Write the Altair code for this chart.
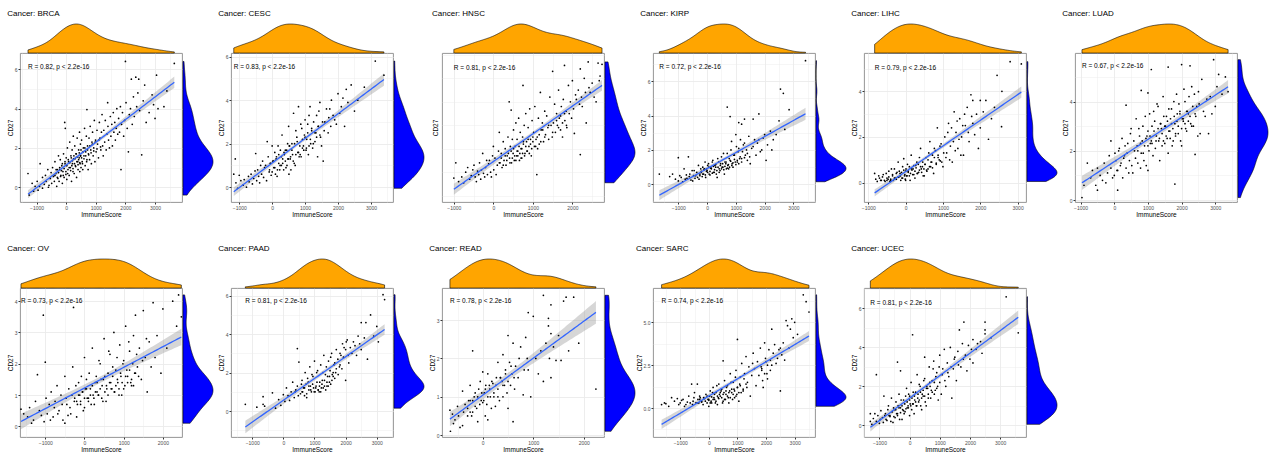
import json

import altair as alt
import numpy as np
import pandas as pd

FONT = "Liberation Sans"
PANEL_W, PANEL_H = 162, 149      # plot-area size of every scatter panel
TOP_H, SIDE_W = 29, 31           # depth of the marginal density strips

CANCERS = ["BRCA", "CESC", "HNSC", "KIRP", "LIHC", "LUAD",
           "OV", "PAAD", "READ", "SARC", "UCEC"]
R_TEXT = ["R = 0.82, p < 2.2e-16", "R = 0.83, p < 2.2e-16", "R = 0.81, p < 2.2e-16",
          "R = 0.72, p < 2.2e-16", "R = 0.79, p < 2.2e-16", "R = 0.67, p < 2.2e-16",
          "R = 0.73, p < 2.2e-16", "R = 0.81, p < 2.2e-16", "R = 0.78, p < 2.2e-16",
          "R = 0.74, p < 2.2e-16", "R = 0.81, p < 2.2e-16"]
X_DOMAIN = [[-1560, 3910], [-1250, 3670], [-1300, 2800], [-1880, 3750], [-1115, 3225],
            [-1167, 3645], [-1645, 2487], [-1680, 3520], [-807, 2400], [-1950, 3710],
            [-1510, 3857]]
Y_DOMAIN = [[-0.75, 6.83], [-0.68, 6.17], [-0.77, 5.58], [-1.03, 7.65], [-0.85, 5.68],
            [-0.08, 5.97], [-0.34, 4.42], [-1.35, 6.4], [-0.05, 3.84], [-1.69, 7.0],
            [-0.6, 7.05]]
X_BREAKS = [[-1000, 0, 1000, 2000, 3000], [-1000, 0, 1000, 2000, 3000],
            [-1000, 0, 1000, 2000], [-1000, 0, 1000, 2000, 3000],
            [-1000, 0, 1000, 2000, 3000], [-1000, 0, 1000, 2000, 3000],
            [-1000, 0, 1000, 2000], [-1000, 0, 1000, 2000, 3000], [0, 1000, 2000],
            [-1000, 0, 1000, 2000, 3000], [-1000, 0, 1000, 2000, 3000]]
Y_BREAKS = [[0, 2, 4, 6], [0, 2, 4, 6], [0, 1, 2, 3, 4, 5], [0, 2, 4, 6], [0, 2, 4],
            [0, 2, 4], [0, 1, 2, 3, 4], [0, 2, 4, 6], [0, 1, 2, 3], [0, 2.5, 5.0],
            [0, 2, 4, 6]]
Y_FORMAT = ["d", "d", "d", "d", "d", "d", "d", "d", "d", ".1f", "d"]

# (ImmuneScore, CD27 expression) per cancer type: spread of the cloud ...
BRCA_PTS = [
    (-1290, 0.7), (-1250, -0.4), (-1150, 0.2), (-1100, -0.2), (-1050, 0.05), (-980, 0.3),
    (-950, -0.15), (-900, 0.05), (-880, 1.2), (-800, 0.5), (-800, -0.05), (-600, 0.0),
    (-740, 0.15), (-700, 0.6), (-680, 0.3), (-620, 0.9), (-580, 0.1), (-540, 0.45), (-510, 0.75),
    (-490, 0.2), (-460, 1.0), (-430, 0.55), (-400, 0.3), (-380, 1.3), (-350, 0.7), (-320, 0.05),
    (-300, 0.9), (-280, 0.45), (-260, 1.6), (-240, 0.3), (-220, 0.9), (-200, 1.4), (-180, 0.6),
    (-150, 1.1), (-130, 0.2), (-110, 0.8), (-90, 1.7), (-70, 0.5), (-50, 3.3), (-40, 1.2),
    (-30, 3.0), (-10, 0.65), (0, 1.5), (20, 0.4), (40, 2.0), (60, 0.9), (80, 1.3), (100, 0.6),
    (120, 2.3), (140, 1.0), (160, 1.6), (180, 0.3), (200, 1.9), (210, 1.2), (230, 0.8), (240, 2.6),
    (250, 1.45), (270, 0.7), (290, 2.1), (310, 1.1), (330, 1.7), (350, 0.5), (370, 2.5), (390, 1.3),
    (400, 0.9), (420, 1.9), (440, 1.5), (450, 2.8), (460, 0.8), (470, 1.2), (480, 2.2), (490, 1.6),
    (500, 1.0), (520, 2.4), (540, 1.3), (560, 0.9), (580, 2.0), (600, 1.6), (620, 3.0), (640, 1.1),
    (660, 1.8), (680, 2.6), (700, 3.95), (700, 1.4), (720, 2.1), (740, 0.9), (750, 1.7), (770, 2.5),
    (790, 1.4), (810, 3.1), (830, 1.9), (850, 1.2), (870, 2.3), (890, 2.8), (910, 1.6), (930, 2.0),
    (950, 3.4), (970, 1.3), (990, 2.4), (1010, 1.8), (1040, 2.9), (1060, 2.2), (1090, 1.5),
    (1120, 3.3), (1140, 2.5), (1170, 1.9), (1190, 2.8), (1210, 3.7), (1230, 2.1), (1250, 1.6),
    (1270, 2.9), (1300, 2.3), (1320, 3.4), (1350, 1.9), (1370, 2.7), (1400, 4.3), (1410, 3.1),
    (1430, 2.4), (1460, 2.0), (1490, 3.6), (1510, 2.6), (1540, 3.2), (1560, 2.1), (1590, 3.8),
    (1610, 2.8), (1640, 3.3), (1660, 2.4), (1690, 3.0), (1710, 4.0), (1740, 2.7), (1770, 3.5),
    (1800, 2.8), (1830, 4.1), (1850, 0.9), (1870, 3.2), (1900, 3.8), (1940, 2.6), (1970, 3.4),
    (2000, 6.4), (2020, 4.3), (2060, 3.0), (2100, 1.8), (2130, 3.7), (2170, 4.0), (2200, 5.5),
    (2230, 3.2), (2270, 4.6), (2300, 3.6), (2350, 5.6), (2380, 4.1), (2420, 4.8), (2450, 5.5),
    (2480, 3.9), (2550, 1.65), (2600, 4.4), (2650, 5.2), (2700, 3.3), (2800, 3.8), (2900, 4.7),
    (2950, 4.2), (3000, 3.5), (3050, 5.7), (3100, 4.0), (3300, 4.1), (3400, 4.9), (3650, 6.3)]
CESC_PTS = [
    (-1166, 0.6), (-1120, 1.3), (-1100, 0.2), (-1050, -0.05), (-1000, 0.55), (-950, 0.3),
    (-880, 0.1), (-850, 0.35), (-780, 0.0), (-720, 0.5), (-700, 0.25), (-640, 0.6), (-600, 0.15),
    (-560, 0.4), (-520, 0.75), (-500, 1.55), (-470, 0.3), (-440, 0.8), (-410, 0.5), (-380, 0.2),
    (-350, 1.0), (-320, 0.6), (-290, 1.2), (-260, 0.45), (-230, 0.9), (-200, 1.0), (-170, 0.3),
    (-150, 2.1), (-120, 1.4), (-90, 0.7), (-60, 1.1), (-30, 0.55), (0, 1.9), (20, 1.2), (50, 0.9),
    (80, 1.6), (100, 0.6), (130, 1.4), (150, 0.5), (180, 1.9), (200, 1.1), (230, 0.8), (250, 1.7),
    (280, 1.0), (300, 2.4), (320, 1.3), (350, 0.8), (370, 1.5), (400, 1.7), (420, 0.9), (450, 1.0),
    (470, 2.0), (490, 1.3), (500, 2.8), (510, 0.6), (530, 1.9), (550, 1.3), (570, 0.8), (600, 2.0),
    (620, 1.5), (650, 3.4), (670, 1.1), (700, 1.0), (720, 2.6), (750, 2.3), (780, 1.6), (800, 3.7),
    (820, 1.4), (850, 1.5), (870, 2.9), (900, 2.7), (920, 1.8), (950, 1.9), (980, 2.4), (1000, 3.1),
    (1030, 1.7), (1050, 2.2), (1080, 2.9), (1100, 1.5), (1120, 3.3), (1150, 3.7), (1170, 2.0),
    (1200, 2.6), (1230, 1.8), (1260, 3.0), (1300, 2.1), (1330, 2.5), (1350, 3.3), (1380, 1.4),
    (1400, 2.8), (1420, 3.5), (1450, 3.9), (1470, 2.3), (1500, 1.9), (1530, 3.0), (1550, 1.2),
    (1580, 2.6), (1600, 3.0), (1650, 3.6), (1700, 2.5), (1720, 3.2), (1750, 3.6), (1780, 2.8),
    (1800, 4.0), (1850, 3.3), (1900, 3.1), (1950, 2.9), (2000, 4.3), (2050, 3.4), (2100, 3.7),
    (2150, 4.1), (2200, 2.8), (2250, 4.5), (2300, 3.9), (2400, 4.7), (2500, 3.5), (2600, 4.0),
    (2800, 4.6), (3132, 5.8), (3395, 5.15)]
HNSC_PTS = [
    (-1000, 0.25), (-950, 0.9), (-880, 0.1), (-800, 0.3), (-750, 0.05), (-700, 0.5), (-650, 0.7),
    (-600, 0.2), (-560, 0.35), (-520, 0.6), (-490, 0.8), (-460, 0.3), (-430, 0.1), (-400, 0.55),
    (-370, 0.4), (-350, 0.9), (-320, 0.2), (-300, 0.6), (-270, 1.3), (-250, 0.45), (-220, 0.3),
    (-200, 0.7), (-170, 1.0), (-150, 0.4), (-120, 0.85), (-100, 1.0), (-70, 0.5), (-50, 0.3),
    (-20, 1.2), (0, 1.6), (10, 0.6), (40, 1.1), (70, 0.4), (100, 0.8), (130, 1.4), (150, 2.2),
    (170, 0.9), (200, 1.3), (220, 0.7), (250, 1.8), (270, 1.0), (300, 1.5), (320, 0.8), (350, 1.2),
    (370, 2.0), (400, 3.5), (410, 1.1), (430, 1.6), (450, 3.15), (460, 0.9), (480, 1.9), (500, 1.3),
    (510, 2.3), (530, 1.0), (550, 1.6), (570, 2.6), (590, 1.2), (600, 1.9), (620, 1.4), (640, 2.8),
    (660, 1.0), (680, 2.2), (700, 1.5), (720, 1.1), (740, 2.0), (750, 4.2), (760, 1.7), (780, 2.5),
    (800, 1.3), (820, 3.0), (840, 1.8), (860, 1.4), (880, 2.4), (900, 1.6), (920, 3.2), (940, 1.9),
    (960, 1.2), (980, 2.7), (1000, 1.8), (1020, 2.2), (1050, 3.3), (1070, 1.6), (1100, 0.4),
    (1110, 2.0), (1140, 2.8), (1160, 1.7), (1190, 3.9), (1210, 2.3), (1240, 2.6), (1270, 1.8),
    (1300, 3.1), (1320, 2.1), (1350, 2.9), (1380, 2.4), (1400, 1.9), (1430, 3.7), (1460, 2.5),
    (1490, 2.0), (1500, 4.8), (1520, 2.6), (1550, 3.4), (1570, 2.2), (1600, 3.0), (1620, 2.5),
    (1650, 4.0), (1670, 2.8), (1700, 2.3), (1720, 3.3), (1750, 2.0), (1770, 3.6), (1800, 5.05),
    (1810, 2.7), (1840, 3.1), (1860, 2.4), (1900, 4.2), (1920, 3.0), (1950, 3.5), (1980, 2.8),
    (2000, 4.4), (2030, 3.2), (2050, 2.15), (2080, 3.8), (2100, 3.6), (2150, 4.0), (2180, 3.4),
    (2200, 1.25), (2200, 4.9), (2230, 3.7), (2250, 3.3), (2300, 4.5), (2330, 3.9), (2350, 2.6),
    (2400, 5.2), (2420, 4.1), (2450, 3.9), (2500, 4.3), (2550, 3.7), (2600, 3.5), (2650, 5.15),
    (2680, 4.4), (2700, 4.6), (2750, 5.1)]
KIRP_PTS = [
    (-1660, 0.6), (-1300, 0.45), (-1200, 0.6), (-1100, 0.3), (-1000, 1.55), (-1000, 0.2),
    (-950, 0.5), (-900, 0.4), (-850, 0.15), (-800, 0.9), (-760, 0.3), (-720, 0.55), (-700, 0.35),
    (-650, 1.6), (-620, 0.45), (-600, 0.6), (-560, 0.25), (-520, 0.8), (-500, 0.2), (-470, 0.5),
    (-450, 0.8), (-420, 0.35), (-400, 0.5), (-360, 0.7), (-330, 0.4), (-300, 1.1), (-280, 0.3),
    (-250, 0.6), (-220, 0.9), (-200, 0.7), (-170, 0.45), (-150, 1.0), (-120, 0.6), (-100, 0.9),
    (-70, 1.3), (-50, 0.4), (-20, 0.75), (0, 0.8), (20, 1.1), (50, 1.2), (70, 0.6), (100, 0.55),
    (120, 0.95), (150, 0.9), (180, 1.3), (200, 1.4), (220, 0.7), (250, 0.7), (270, 1.1), (300, 1.0),
    (320, 0.6), (350, 0.4), (370, 1.5), (400, 1.3), (420, 0.9), (450, 0.8), (470, 1.2), (500, 1.6),
    (520, 1.0), (550, 1.0), (570, 1.8), (600, 0.6), (620, 1.3), (650, 1.2), (670, 0.9), (700, 4.5),
    (700, 1.8), (720, 1.1), (750, 0.9), (770, 1.5), (800, 3.95), (800, 1.4), (830, 2.0), (850, 2.5),
    (870, 1.2), (900, 1.0), (930, 1.7), (950, 1.7), (980, 1.3), (1000, 2.9), (1020, 2.2),
    (1050, 1.3), (1080, 1.9), (1100, 3.6), (1100, 2.1), (1130, 1.5), (1160, 2.6), (1200, 3.5),
    (1200, 1.5), (1230, 1.9), (1260, 2.3), (1300, 3.8), (1300, 2.4), (1330, 1.7), (1370, 2.0),
    (1400, 1.8), (1450, 2.8), (1480, 1.6), (1500, 1.2), (1550, 2.1), (1600, 3.8), (1600, 2.2),
    (1650, 2.6), (1700, 1.7), (1750, 2.4), (1800, 4.1), (1800, 2.6), (1850, 1.9), (1900, 2.0),
    (1950, 2.7), (2000, 2.9), (2050, 1.4), (2100, 2.3), (2200, 3.1), (2250, 2.0), (2300, 2.6),
    (2400, 2.9), (2500, 3.7), (2550, 5.55), (2650, 5.3), (2700, 3.2), (2850, 4.35), (3420, 7.2)]
LIHC_PTS = [
    (-830, 0.4), (-800, 0.15), (-760, 0.05), (-720, 0.3), (-700, 0.2), (-670, 0.1), (-650, 0.1),
    (-620, 0.25), (-600, 0.35), (-570, 0.1), (-550, 0.05), (-520, 0.4), (-500, 0.2), (-470, 0.15),
    (-450, 0.5), (-420, 0.05), (-400, 0.1), (-380, 0.6), (-350, 0.3), (-330, 0.1), (-300, 0.6),
    (-280, 0.2), (-250, 0.15), (-230, 0.45), (-200, 0.9), (-180, 0.25), (-150, 0.4), (-130, 0.1),
    (-100, 0.2), (-80, 0.7), (-50, 1.05), (-30, 0.3), (-10, 0.15), (0, 0.5), (0, 0.1), (20, 0.3),
    (50, 0.8), (70, 0.45), (100, 0.3), (120, 0.1), (150, 1.2), (170, 0.55), (200, 0.6), (220, 0.35),
    (250, 0.2), (270, 0.75), (300, 0.9), (320, 0.4), (350, 0.45), (370, 1.1), (400, 1.5), (420, 0.6),
    (450, 0.7), (470, 0.3), (500, 0.3), (520, 0.8), (550, 1.1), (570, 0.5), (600, 0.6), (620, 1.3),
    (650, 1.8), (670, 0.7), (700, 0.9), (720, 1.2), (750, 0.4), (770, 1.5), (800, 1.4), (820, 0.8),
    (850, 2.4), (870, 1.1), (900, 1.0), (920, 1.6), (950, 1.7), (970, 0.9), (1000, 0.7),
    (1020, 1.3), (1050, 2.0), (1080, 1.1), (1100, 1.3), (1130, 2.2), (1150, 2.6), (1180, 1.0),
    (1200, 1.6), (1230, 2.4), (1250, 0.9), (1280, 1.8), (1300, 3.1), (1330, 1.4), (1350, 2.2),
    (1380, 2.7), (1400, 1.5), (1430, 1.9), (1450, 2.8), (1480, 1.2), (1500, 2.0), (1530, 2.5),
    (1550, 1.2), (1580, 3.0), (1600, 2.5), (1650, 3.3), (1680, 2.2), (1700, 1.8), (1750, 3.85),
    (1770, 2.9), (1800, 3.6), (1800, 2.6), (1850, 2.1), (1900, 3.0), (1950, 1.5), (2000, 3.6),
    (2000, 2.4), (2080, 3.1), (2150, 3.6), (2220, 1.9), (2300, 2.8), (2380, 3.3), (2450, 4.7),
    (2570, 2.45), (2580, 4.0), (2800, 5.3), (3100, 5.2)]
LUAD_PTS = [
    (-960, 0.1), (-900, 0.6), (-800, 1.5), (-700, 0.9), (-650, 1.2), (-550, 0.6), (-500, 1.3),
    (-500, 0.4), (-420, 1.0), (-350, 0.8), (-300, 1.5), (-250, 0.7), (-200, 1.1), (-150, 1.8),
    (-100, 2.4), (-100, 1.3), (-50, 0.9), (0, 1.0), (20, 1.9), (50, 1.6), (80, 1.2), (100, 0.4),
    (100, 1.2), (130, 2.0), (150, 2.1), (180, 1.4), (200, 1.5), (230, 2.5), (250, 0.9), (280, 1.7),
    (300, 1.8), (320, 2.2), (350, 3.85), (350, 1.3), (380, 1.9), (400, 2.3), (430, 1.1), (450, 1.6),
    (480, 2.7), (500, 2.9), (520, 1.4), (550, 1.1), (580, 2.4), (600, 2.0), (630, 1.7), (650, 3.3),
    (680, 2.2), (700, 1.5), (730, 2.9), (750, 2.6), (780, 1.3), (800, 4.45), (800, 1.9), (830, 2.4),
    (850, 3.0), (880, 1.6), (900, 2.2), (920, 3.4), (950, 1.4), (970, 2.6), (1000, 4.35),
    (1000, 1.2), (1000, 2.8), (1030, 2.0), (1050, 3.5), (1070, 2.3), (1100, 5.3), (1100, 2.4),
    (1120, 3.0), (1150, 1.8), (1170, 3.6), (1200, 3.2), (1220, 2.1), (1250, 2.6), (1270, 3.9),
    (1300, 3.8), (1320, 2.4), (1350, 1.6), (1370, 3.1), (1400, 2.9), (1420, 2.2), (1450, 4.2),
    (1470, 3.4), (1500, 2.3), (1520, 3.0), (1550, 3.4), (1570, 2.5), (1600, 5.4), (1600, 1.9),
    (1620, 3.7), (1650, 2.8), (1670, 3.3), (1700, 3.7), (1720, 2.2), (1750, 2.4), (1770, 4.0),
    (1800, 0.65), (1800, 3.1), (1820, 2.6), (1850, 4.3), (1870, 3.5), (1900, 2.7), (1920, 3.9),
    (1950, 3.6), (1970, 2.4), (2000, 5.5), (2000, 2.2), (2020, 3.3), (2050, 3.2), (2070, 4.5),
    (2100, 4.0), (2120, 2.9), (2150, 2.8), (2170, 3.6), (2200, 3.5), (2220, 4.2), (2250, 5.45),
    (2270, 3.1), (2300, 4.6), (2330, 3.8), (2350, 3.0), (2380, 4.3), (2400, 1.85), (2420, 3.4),
    (2450, 3.8), (2480, 2.6), (2500, 4.4), (2520, 3.9), (2550, 2.7), (2600, 4.9), (2650, 3.6),
    (2700, 3.4), (2750, 4.1), (2800, 2.7), (2850, 4.2), (2900, 3.5), (2950, 5.7), (3000, 3.8),
    (3050, 4.6), (3100, 5.1), (3200, 4.3), (3300, 5.0), (3380, 4.4)]
OV_PTS = [
    (-1620, 0.55), (-1550, 0.4), (-1450, 0.3), (-1400, 0.6), (-1350, 0.1), (-1300, 0.2),
    (-1250, 0.8), (-1200, 1.65), (-1150, 0.5), (-1100, 0.35), (-1050, 3.55), (-1030, 0.15),
    (-1000, 2.05), (-980, 0.9), (-950, 0.4), (-900, 0.7), (-870, 0.2), (-850, 1.1), (-800, 0.3),
    (-770, 0.6), (-750, 0.8), (-700, 1.3), (-680, 0.4), (-650, 0.5), (-600, 1.0), (-570, 0.7),
    (-550, 0.2), (-500, 0.1), (-500, 1.6), (-470, 0.9), (-450, 0.7), (-420, 0.35), (-400, 1.2),
    (-370, 0.6), (-350, 0.4), (-320, 1.0), (-300, 1.9), (-280, 3.8), (-260, 0.8), (-250, 0.9),
    (-220, 1.3), (-200, 0.3), (-180, 0.7), (-150, 1.4), (-120, 1.0), (-100, 0.8), (-80, 1.6),
    (-50, 1.1), (-30, 0.5), (0, 2.2), (0, 0.6), (20, 1.2), (50, 1.5), (70, 0.9), (100, 0.9),
    (120, 1.7), (150, 1.2), (170, 0.7), (200, 2.5), (220, 1.0), (250, 0.7), (270, 1.4), (300, 1.6),
    (320, 1.1), (350, 1.0), (370, 2.1), (400, 2.0), (420, 1.5), (450, 1.3), (470, 0.8), (500, 2.8),
    (520, 1.6), (550, 0.8), (570, 1.2), (600, 1.7), (620, 2.4), (650, 2.3), (670, 1.4), (700, 1.2),
    (720, 1.9), (750, 3.0), (770, 1.1), (800, 1.8), (830, 2.2), (850, 1.4), (880, 1.0), (900, 2.6),
    (930, 1.6), (950, 1.0), (980, 2.0), (1000, 2.1), (1030, 1.3), (1050, 3.2), (1080, 1.8),
    (1100, 1.6), (1130, 2.7), (1150, 2.4), (1180, 1.4), (1200, 1.3), (1230, 2.0), (1250, 2.9),
    (1280, 1.7), (1300, 3.55), (1330, 2.3), (1350, 1.9), (1380, 1.6), (1400, 2.5), (1450, 1.5),
    (1480, 2.1), (1500, 3.7), (1550, 2.2), (1580, 2.8), (1600, 1.1), (1650, 2.7), (1700, 1.9),
    (1750, 3.95), (1800, 2.2), (1850, 2.9), (1950, 1.7), (2000, 3.75), (2100, 2.5), (2250, 4.0),
    (2350, 3.2), (2400, 4.2), (2470, 3.5)]
PAAD_PTS = [
    (-1220, 0.35), (-850, 0.2), (-650, 0.75), (-650, 0.35), (-600, 0.25), (-350, 0.95), (-250, 0.15),
    (-150, 0.6), (-80, 0.3), (0, 0.85), (50, 0.5), (100, 1.2), (150, 0.8), (200, 0.55), (250, 1.0),
    (300, 1.5), (350, 0.7), (380, 1.0), (400, 1.1), (450, 3.25), (450, 1.3), (480, 0.8), (500, 2.55),
    (550, 0.9), (580, 1.4), (600, 1.6), (620, 1.0), (650, 1.2), (680, 0.8), (700, 2.0), (730, 1.4),
    (750, 0.7), (780, 1.7), (800, 1.5), (820, 1.1), (850, 2.3), (870, 1.3), (900, 1.0), (920, 1.9),
    (950, 1.8), (970, 1.2), (1000, 2.6), (1020, 1.0), (1050, 1.3), (1070, 2.0), (1100, 2.1),
    (1120, 1.1), (1150, 1.0), (1170, 1.5), (1200, 2.4), (1220, 1.2), (1250, 1.6), (1270, 2.0),
    (1300, 2.9), (1320, 1.3), (1350, 1.9), (1380, 2.3), (1400, 1.3), (1420, 1.8), (1450, 2.6),
    (1480, 1.5), (1500, 2.1), (1520, 2.8), (1550, 3.0), (1570, 1.9), (1600, 1.8), (1620, 2.4),
    (1650, 2.5), (1680, 2.0), (1700, 3.2), (1750, 2.7), (1800, 2.3), (1820, 3.0), (1850, 2.9),
    (1880, 2.2), (1900, 3.5), (1930, 2.8), (1950, 3.3), (2000, 1.6), (2000, 3.2), (2020, 3.6),
    (2050, 3.7), (2080, 2.9), (2100, 2.5), (2150, 3.3), (2200, 3.0), (2250, 3.6), (2300, 3.4),
    (2350, 2.9), (2400, 3.9), (2450, 3.5), (2500, 4.6), (2500, 3.2), (2600, 3.8), (2650, 4.6),
    (2700, 2.7), (2800, 5.0), (2900, 3.9), (3000, 4.4), (3050, 3.6), (3200, 6.05), (3250, 5.8)]
READ_PTS = [
    (-650, 0.65), (-640, 0.1), (-600, 0.55), (-580, 0.3), (-550, 0.4), (-500, 0.75), (-480, 0.5),
    (-450, 0.2), (-400, 0.25), (-400, 1.15), (-380, 0.6), (-350, 0.8), (-300, 0.5), (-280, 0.9),
    (-250, 1.3), (-250, 0.9), (-220, 0.5), (-200, 2.2), (-200, 0.6), (-170, 1.0), (-150, 1.1),
    (-120, 0.7), (-100, 0.35), (-80, 1.2), (-50, 1.4), (-30, 0.9), (0, 0.85), (0, 1.65), (30, 1.1),
    (50, 0.5), (50, 1.2), (80, 0.8), (100, 1.6), (100, 0.4), (130, 1.3), (150, 1.0), (170, 0.7),
    (200, 1.35), (220, 1.0), (250, 0.75), (270, 1.5), (300, 1.9), (300, 1.2), (330, 0.9), (350, 1.5),
    (380, 1.4), (400, 2.1), (400, 1.0), (430, 1.3), (450, 1.7), (480, 1.1), (500, 2.6), (500, 0.7),
    (530, 1.9), (550, 1.3), (580, 1.6), (600, 0.35), (600, 2.4), (630, 1.2), (650, 1.8), (700, 1.5),
    (720, 2.0), (750, 2.3), (800, 1.05), (820, 1.7), (850, 2.55), (880, 2.0), (900, 3.2), (900, 1.7),
    (950, 1.0), (1000, 3.1), (1050, 2.0), (1100, 1.6), (1150, 2.2), (1200, 3.65), (1200, 1.4),
    (1250, 2.4), (1300, 3.05), (1300, 2.85), (1320, 2.0), (1350, 2.65), (1350, 1.5), (1350, 3.4),
    (1400, 2.3), (1450, 1.95), (1500, 2.6), (1550, 1.95), (1600, 3.5), (1650, 3.6), (1700, 2.2),
    (1800, 3.6), (1900, 2.4), (2240, 1.2)]
SARC_PTS = [
    (-1650, 0.2), (-1550, 0.3), (-1500, 0.25), (-1400, 0.1), (-1300, 0.6), (-1200, 0.4),
    (-1100, 0.55), (-1050, 0.2), (-1000, 0.3), (-950, 0.45), (-900, 0.5), (-850, 0.1), (-800, 0.2),
    (-750, 0.35), (-700, 0.7), (-650, 0.3), (-600, 1.4), (-570, 0.2), (-550, 0.4), (-520, 0.6),
    (-500, 0.9), (-450, 0.3), (-400, 1.4), (-380, 0.5), (-350, 0.3), (-320, 0.7), (-300, 0.6),
    (-250, 0.4), (-200, 0.2), (-150, 0.55), (-100, 0.8), (-60, 0.3), (-30, 0.5), (0, 0.1), (0, 0.5),
    (30, 0.7), (50, 1.0), (80, 0.4), (100, 0.3), (130, 0.9), (150, 1.2), (180, 0.6), (200, 0.5),
    (230, 0.3), (250, 0.9), (280, 1.3), (300, 0.2), (330, 0.6), (350, 1.4), (370, 0.8), (400, 0.7),
    (430, 1.0), (450, 1.1), (480, 0.3), (500, 2.75), (500, 0.4), (530, 0.9), (550, 1.6), (580, 0.5),
    (600, 0.8), (620, 1.2), (650, 1.3), (680, 0.6), (700, 0.3), (730, 1.0), (750, 2.0), (780, 1.5),
    (800, 0.9), (830, 0.5), (850, 1.5), (880, 1.1), (900, 0.6), (930, 1.8), (950, 2.2), (980, 0.8),
    (1000, 4.0), (1000, 1.2), (1050, 0.4), (1080, 1.4), (1100, 1.8), (1130, 0.9), (1150, 2.6),
    (1200, 1.0), (1230, 1.7), (1250, 2.0), (1300, 3.0), (1330, 1.2), (1350, 1.5), (1400, 2.4),
    (1450, 0.7), (1500, 1.9), (1530, 2.6), (1550, 3.2), (1600, 2.3), (1650, 1.3), (1700, 2.7),
    (1750, 1.9), (1800, 3.5), (1830, 2.4), (1850, 2.2), (1880, 1.6), (1900, 1.2), (1950, 3.8),
    (1980, 2.9), (2000, 2.7), (2030, 2.0), (2050, 1.7), (2100, 3.4), (2150, 2.8), (2200, 4.6),
    (2200, 2.5), (2250, 3.2), (2300, 3.7), (2350, 2.6), (2400, 2.9), (2450, 3.4), (2500, 1.0),
    (2500, 3.5), (2550, 3.1), (2600, 3.8), (2650, 2.8), (2700, 5.1), (2750, 4.8), (2800, 3.5),
    (2850, 4.6), (2900, 5.2), (2950, 4.1), (3000, 5.0), (3100, 4.3), (3300, 6.6), (3400, 6.2),
    (3500, 5.6)]
UCEC_PTS = [
    (-1300, 0.6), (-1300, 0.2), (-1250, 0.05), (-1200, 0.35), (-1150, 0.6), (-1100, 2.6),
    (-1100, 0.2), (-1050, 0.5), (-1000, 0.1), (-970, 0.3), (-950, 0.75), (-900, 0.4), (-870, 0.15),
    (-850, 1.5), (-820, 0.5), (-800, 0.6), (-780, 0.3), (-750, 0.25), (-720, 0.8), (-700, 1.0),
    (-680, 0.5), (-650, 0.45), (-620, 0.2), (-600, 1.4), (-580, 0.7), (-550, 0.15), (-530, 0.9),
    (-500, 0.8), (-480, 0.4), (-450, 1.2), (-430, 0.6), (-400, 3.25), (-400, 0.5), (-380, 1.0),
    (-350, 1.6), (-330, 0.3), (-300, 2.8), (-300, 0.9), (-280, 1.3), (-250, 0.3), (-230, 0.8),
    (-200, 1.3), (-180, 0.6), (-150, 0.7), (-130, 1.5), (-100, 1.9), (-80, 0.9), (-50, 1.0),
    (-30, 1.6), (0, 0.5), (0, 1.5), (20, 1.1), (50, 2.2), (70, 0.8), (100, 4.65), (100, 1.1),
    (120, 1.7), (150, 0.6), (170, 1.3), (200, 1.7), (220, 1.0), (250, 2.6), (270, 1.4), (300, 1.2),
    (320, 2.1), (350, 2.0), (370, 1.0), (400, 0.8), (420, 1.6), (450, 1.5), (470, 2.3), (500, 3.5),
    (500, 2.4), (520, 1.2), (550, 1.0), (570, 2.0), (600, 1.9), (620, 1.4), (650, 3.0), (670, 2.2),
    (700, 1.4), (720, 1.8), (750, 2.3), (780, 2.9), (800, 3.3), (820, 1.6), (850, 1.8), (870, 2.5),
    (900, 2.7), (930, 2.0), (950, 1.3), (980, 3.0), (1000, 3.6), (1000, 2.2), (1050, 1.6),
    (1080, 2.6), (1100, 2.9), (1150, 3.9), (1170, 2.3), (1200, 2.0), (1250, 3.2), (1270, 2.7),
    (1300, 2.5), (1350, 4.0), (1380, 3.0), (1400, 1.4), (1450, 2.9), (1480, 3.4), (1500, 3.5),
    (1550, 2.3), (1600, 3.8), (1620, 3.1), (1650, 4.9), (1700, 3.0), (1750, 4.2), (1780, 3.4),
    (1800, 5.3), (1850, 3.6), (1900, 2.8), (1950, 4.1), (2000, 3.4), (2050, 3.9), (2100, 3.2),
    (2100, 4.4), (2200, 3.9), (2250, 4.2), (2350, 4.3), (2400, 3.7), (2500, 5.3), (2500, 4.9),
    (2500, 4.7), (2700, 4.5), (3200, 6.6), (3600, 4.75)]

# ... and the dense core of each cloud
BRCA_CORE = [
    (-380, 0.6), (-340, 0.9), (-300, 0.5), (-260, 0.75), (-220, 1.0), (-190, 0.55), (-160, 0.85),
    (-130, 1.2), (-100, 0.6), (-70, 0.95), (-40, 1.3), (-10, 0.8), (20, 1.1), (50, 0.7), (70, 1.4),
    (100, 1.0), (120, 1.25), (150, 0.85), (170, 1.5), (190, 1.1), (210, 1.35), (230, 0.95),
    (260, 1.6), (280, 1.2), (300, 1.45), (320, 1.05), (340, 1.7), (360, 1.3), (380, 1.55),
    (400, 1.15), (420, 1.4), (440, 1.75), (460, 1.25), (480, 1.6), (500, 1.9), (520, 1.5),
    (550, 1.2), (570, 1.8), (600, 1.45), (630, 2.0), (660, 1.6), (690, 1.3), (720, 1.9), (760, 1.65),
    (800, 2.1), (840, 1.75), (880, 2.2), (930, 1.85), (980, 2.3), (1040, 1.95), (1100, 2.4),
    (1160, 2.05)]
CESC_CORE = [
    (-80, 0.8), (-40, 1.1), (0, 0.7), (40, 1.2), (80, 0.9), (120, 1.3), (160, 0.8), (200, 1.5),
    (240, 1.0), (280, 1.4), (320, 1.1), (360, 1.6), (400, 1.2), (440, 1.7), (480, 1.3), (520, 1.9),
    (560, 1.4), (600, 1.7), (640, 1.2), (680, 2.0), (720, 1.5), (760, 2.1), (800, 1.6), (840, 1.9),
    (880, 1.4), (920, 2.2), (960, 1.7), (1000, 2.3), (1040, 1.8), (1080, 2.5), (1120, 1.9),
    (1160, 2.2), (1200, 2.7), (1250, 2.0), (1300, 2.5), (1350, 2.3), (1400, 2.8), (1450, 2.4)]
HNSC_CORE = [
    (150, 0.9), (200, 1.1), (250, 0.8), (300, 1.2), (340, 1.0), (380, 1.3), (420, 0.9), (450, 1.4),
    (480, 1.1), (510, 1.5), (540, 1.2), (570, 1.0), (600, 1.4), (620, 1.2), (650, 1.6), (670, 1.3),
    (700, 1.1), (720, 1.5), (740, 1.3), (760, 1.8), (790, 1.2), (820, 1.6), (850, 1.4), (880, 1.9),
    (910, 1.3), (940, 1.7), (970, 1.5), (1000, 2.0), (1040, 1.6), (1080, 1.9), (1120, 1.5),
    (1160, 2.1), (1200, 1.8), (1250, 2.3), (1300, 2.0), (1400, 2.5), (1500, 2.2), (1600, 2.7),
    (1650, 2.4), (1700, 2.9), (1750, 2.6), (1800, 3.0), (1850, 2.5)]
KIRP_CORE = [
    (-250, 0.5), (-200, 0.75), (-150, 0.6), (-100, 0.85), (-60, 0.55), (-20, 0.9), (20, 0.7),
    (60, 1.0), (100, 0.75), (140, 0.95), (180, 0.65), (220, 1.05), (260, 0.85), (300, 1.15),
    (340, 0.8), (380, 1.0), (420, 0.7), (460, 1.1), (500, 0.9), (540, 1.2), (580, 0.85), (620, 1.05),
    (660, 1.3), (700, 0.95), (740, 1.15), (780, 1.0), (820, 1.35), (860, 1.1), (900, 1.25),
    (950, 1.45), (1000, 1.15), (1050, 1.4), (1100, 1.2), (1150, 1.6), (1200, 1.3), (1300, 1.55),
    (1400, 1.4)]
LIHC_CORE = [
    (-500, 0.1), (-450, 0.25), (-400, 0.15), (-350, 0.35), (-300, 0.2), (-250, 0.4), (-200, 0.25),
    (-170, 0.5), (-140, 0.3), (-110, 0.45), (-80, 0.2), (-50, 0.55), (-20, 0.35), (10, 0.6),
    (40, 0.3), (70, 0.5), (100, 0.7), (130, 0.4), (160, 0.6), (190, 0.35), (220, 0.75), (250, 0.5),
    (280, 0.65), (310, 0.4), (340, 0.8), (370, 0.55), (400, 0.7), (430, 0.45), (460, 0.9),
    (490, 0.6), (520, 0.8), (560, 0.55), (600, 1.0), (640, 0.7), (680, 0.9), (720, 0.65),
    (770, 1.1), (820, 0.85), (870, 1.2), (930, 0.95)]
LUAD_CORE = [
    (700, 2.0), (780, 2.3), (860, 1.9), (940, 2.5), (1000, 2.2), (1060, 2.6), (1120, 2.3),
    (1180, 2.8), (1240, 2.4), (1300, 2.9), (1340, 2.5), (1380, 3.1), (1420, 2.7), (1460, 2.4),
    (1500, 3.0), (1540, 2.6), (1580, 3.2), (1620, 2.8), (1660, 2.5), (1700, 3.1), (1740, 2.9),
    (1780, 3.4), (1820, 2.7), (1860, 3.2), (1900, 3.0), (1950, 3.5), (2000, 2.9), (2050, 3.3),
    (2100, 3.1), (2150, 3.6), (2200, 3.2), (2250, 3.4), (2300, 3.0), (2400, 3.5)]
OV_CORE = [
    (-200, 0.8), (-150, 1.0), (-100, 0.7), (-50, 1.1), (0, 0.9), (50, 1.2), (100, 0.8), (150, 1.0),
    (200, 1.3), (240, 0.9), (280, 1.1), (320, 1.4), (360, 1.0), (400, 1.2), (440, 0.9), (480, 1.5),
    (520, 1.1), (560, 1.3), (600, 1.0), (640, 1.4), (680, 1.2), (720, 1.6), (760, 1.1), (800, 1.3),
    (840, 1.5), (880, 1.2), (920, 1.7), (960, 1.4), (1000, 1.2), (1050, 1.6), (1100, 1.4),
    (1150, 1.8), (1200, 1.5), (1250, 1.3), (1300, 1.7)]
PAAD_CORE = [
    (600, 1.0), (680, 1.2), (750, 0.9), (820, 1.3), (880, 1.1), (940, 1.4), (990, 1.0), (1040, 1.2),
    (1080, 1.5), (1120, 1.1), (1160, 1.3), (1200, 1.0), (1240, 1.4), (1280, 1.2), (1320, 1.6),
    (1360, 1.1), (1400, 1.5), (1440, 1.3), (1480, 1.8), (1520, 1.4), (1560, 1.6), (1600, 2.0),
    (1650, 1.7), (1700, 2.2), (1760, 1.9), (1820, 2.4)]
READ_CORE = [
    (-300, 0.7), (-250, 0.6), (-200, 0.9), (-150, 0.75), (-100, 1.0), (-60, 0.8), (-20, 1.1),
    (20, 0.9), (60, 1.3), (100, 1.0), (140, 1.2), (180, 1.4), (220, 1.1), (260, 1.3), (300, 1.0),
    (350, 1.5), (400, 1.3), (450, 1.6), (500, 1.4), (560, 1.8), (620, 1.5)]
SARC_CORE = [
    (-400, 0.3), (-320, 0.5), (-250, 0.35), (-180, 0.6), (-120, 0.4), (-60, 0.7), (0, 0.45),
    (50, 0.3), (100, 0.65), (150, 0.5), (200, 0.8), (250, 0.4), (300, 0.7), (350, 0.55), (400, 0.9),
    (450, 0.6), (500, 0.8), (550, 0.5), (600, 1.0), (650, 0.7), (700, 0.9), (750, 0.6), (800, 1.1),
    (850, 0.8), (900, 1.0), (950, 0.7), (1000, 1.2), (1050, 0.9), (1100, 1.3), (1200, 1.1),
    (1300, 1.4), (1850, 2.3), (1950, 2.0), (2050, 2.5), (2150, 2.2)]
UCEC_CORE = [
    (-650, 0.5), (-580, 0.7), (-520, 0.45), (-460, 0.8), (-400, 0.6), (-350, 0.9), (-300, 0.65),
    (-250, 1.0), (-200, 0.75), (-160, 1.1), (-120, 0.85), (-80, 1.2), (-40, 0.9), (0, 1.3),
    (40, 1.0), (80, 1.4), (120, 1.1), (160, 1.5), (200, 1.2), (240, 1.0), (280, 1.6), (320, 1.3),
    (360, 1.7), (400, 1.4), (450, 1.8), (500, 1.5), (560, 1.9), (620, 1.6), (680, 2.0), (750, 1.7),
    (820, 2.2), (900, 1.9)]

POINTS = [BRCA_PTS + BRCA_CORE, CESC_PTS + CESC_CORE, HNSC_PTS + HNSC_CORE,
          KIRP_PTS + KIRP_CORE, LIHC_PTS + LIHC_CORE, LUAD_PTS + LUAD_CORE,
          OV_PTS + OV_CORE, PAAD_PTS + PAAD_CORE, READ_PTS + READ_CORE,
          SARC_PTS + SARC_CORE, UCEC_PTS + UCEC_CORE]


def grid_axis(breaks, domain, fmt, title):
    """Axis with labelled major breaks plus unlabelled minor grid lines between them."""
    step = breaks[1] - breaks[0]
    minors = [b + step / 2 for b in [breaks[0] - step] + breaks]
    minors = [m for m in minors if domain[0] <= m <= domain[1]]
    major = f"indexof({json.dumps(breaks)}, datum.value) >= 0"
    return alt.Axis(
        values=sorted(breaks + minors), format=fmt, title=title,
        labelExpr=f"{major} ? datum.label : ''",
        gridWidth={"condition": {"test": major, "value": 0.9}, "value": 0.45},
        tickOpacity={"condition": {"test": major, "value": 1}, "value": 0},
        labelOverlap=False, labelFlush=False,
    )


def linear_fit(x, y, grid):
    """Least-squares line and 95% confidence band of the mean."""
    slope, icpt = np.polyfit(x, y, 1)
    n = len(x)
    resid = y - (icpt + slope * x)
    s = np.sqrt((resid ** 2).sum() / (n - 2))
    sxx = ((x - x.mean()) ** 2).sum()
    fit = icpt + slope * grid
    half = 1.96 * s * np.sqrt(1 / n + (grid - x.mean()) ** 2 / sxx)
    return fit, fit - half, fit + half


def nrd0(v):
    """Silverman's rule-of-thumb bandwidth (R's bw.nrd0)."""
    iqr = np.subtract(*np.percentile(v, [75, 25]))
    return float(0.9 * min(v.std(ddof=1), iqr / 1.34) * len(v) ** -0.2)


def panel(i):
    name = CANCERS[i]
    df = pd.DataFrame(POINTS[i], columns=["score", "cd27"])
    x, y = df["score"].to_numpy(float), df["cd27"].to_numpy(float)
    grid = np.linspace(x.min(), x.max(), 80)
    fit, lo, hi = linear_fit(x, y, grid)
    fit_df = pd.DataFrame({"score": grid, "fit": fit, "lo": lo, "hi": hi})
    lab_df = pd.DataFrame({"score": [x.min()], "cd27": [y.max()], "label": [R_TEXT[i]]})

    xs = alt.Scale(domain=X_DOMAIN[i], nice=False, zero=False)
    ys = alt.Scale(domain=Y_DOMAIN[i], nice=False, zero=False)
    xax = grid_axis(X_BREAKS[i], X_DOMAIN[i], "d", "ImmuneScore")
    yax = grid_axis(Y_BREAKS[i], Y_DOMAIN[i], Y_FORMAT[i], "CD27")

    def X(f):
        return alt.X(f"{f}:Q", scale=xs, axis=xax)

    def Y(f):
        return alt.Y(f"{f}:Q", scale=ys, axis=yax)

    band = alt.Chart(fit_df).mark_area(color="#999999", opacity=0.4, clip=True).encode(
        x=X("score"), y=Y("lo"), y2="hi:Q")
    dots = alt.Chart(df).mark_circle(size=3, color="black", opacity=1).encode(
        x=X("score"), y=Y("cd27"))
    line = alt.Chart(fit_df).mark_line(color="#3366FF", strokeWidth=1.3, clip=True).encode(
        x=X("score"), y=Y("fit"))
    lab = alt.Chart(lab_df).mark_text(
        align="left", baseline="top", dy=3, fontSize=6.5, font=FONT, color="black"
    ).encode(x=X("score"), y=Y("cd27"), text="label:N")
    core = alt.layer(band, dots, line, lab)

    top = alt.Chart(df).transform_density(
        "score", as_=["score", "density"], bandwidth=nrd0(x),
        extent=[float(x.min()), float(x.max())], steps=150,
    ).mark_area(color="#FFA500", stroke="black", strokeWidth=0.6).encode(
        x=alt.X("score:Q", scale=xs, axis=None),
        y=alt.Y("density:Q", scale=alt.Scale(range=[0, -TOP_H], zero=True, nice=False), axis=None),
    )
    side = alt.Chart(df).transform_density(
        "cd27", as_=["cd27", "density"], bandwidth=nrd0(y),
        extent=[float(y.min()), float(y.max())], steps=150,
    ).mark_area(orient="horizontal", color="#0000FF", stroke="black", strokeWidth=0.6).encode(
        y=alt.Y("cd27:Q", scale=ys, axis=None),
        x=alt.X("density:Q", scale=alt.Scale(range=[PANEL_W + 1, PANEL_W + SIDE_W],
                                              zero=True, nice=False), axis=None),
    )
    return alt.layer(core, top, side).resolve_scale(
        x="independent", y="independent"
    ).properties(
        width=PANEL_W, height=PANEL_H,
        title=alt.TitleParams(f"Cancer: {name}", anchor="start", fontSize=8, font=FONT,
                              fontWeight="normal", color="black", offset=5),
    )


chart = alt.concat(
    *[panel(i) for i in range(len(CANCERS))],
    columns=6, spacing={"row": 86, "column": 49}, bounds="flush",
).properties(
    padding={"left": 6, "top": 9, "right": 0, "bottom": 0},
).configure_view(
    stroke="#8a8a8a", strokeWidth=0.9,
).configure_axis(
    domain=False, gridColor="#EBEBEB", tickColor="#333333", tickSize=2,
    labelFont=FONT, labelFontSize=5, labelColor="#4D4D4D", labelPadding=1,
    titleFont=FONT, titleFontSize=6.5, titleColor="black", titleFontWeight="normal",
    titlePadding=1,
)

chart.save("out.html", embed_options={"renderer": "svg", "actions": False})
